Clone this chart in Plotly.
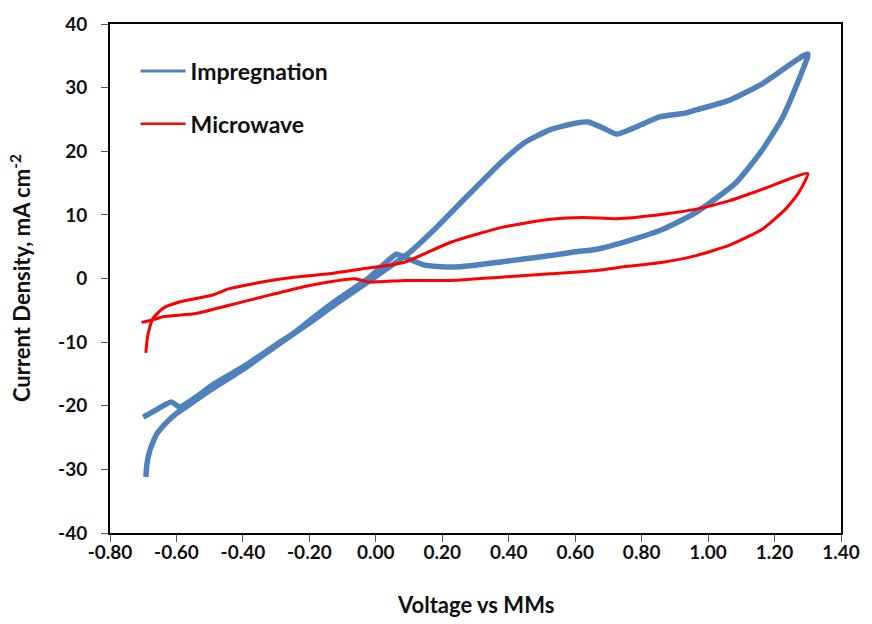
import plotly.graph_objects as go

# Cyclic voltammograms: current density (mA cm^-2) vs potential (V vs MMs)
impregnation_v = [-0.700, -0.660, -0.616, -0.590, -0.540, -0.491, -0.391, -0.300, -0.242,
                  -0.192, -0.112, -0.023, 0.030, 0.062, 0.097, 0.147, 0.226, 0.300, 0.376,
                  0.450, 0.525, 0.600, 0.665, 0.764, 0.864, 0.964, 1.083, 1.163, 1.223,
                  1.265, 1.300,
                  1.163, 1.063, 0.964, 0.930, 0.854, 0.800, 0.725, 0.690, 0.640,
                  0.600, 0.525, 0.446, 0.376, 0.276, 0.177, 0.097, -0.023, -0.112, -0.200,
                  -0.300, -0.400, -0.500, -0.560, -0.600, -0.631, -0.660, -0.680,
                  -0.689, -0.692]
impregnation_i = [-21.8, -20.6, -19.4, -20.2, -18.6, -16.7, -13.6, -10.4, -8.4,
                  -6.3, -3.2, 0.0, 2.5, 3.8, 3.1, 2.1, 1.8, 2.1, 2.6,
                  3.1, 3.6, 4.2, 4.6, 6.0, 7.75, 10.4, 15.0, 20.2, 25.2,
                  30.2, 35.3,
                  30.6, 28.0, 26.5, 26.0, 25.4, 24.2, 22.7, 23.5, 24.6,
                  24.4, 23.4, 21.3, 18.2, 13.0, 7.75, 3.9, -0.5, -3.7, -7.0,
                  -10.6, -14.3, -17.6, -19.8, -21.2, -22.7, -24.5, -27.0,
                  -29.2, -31.2]

microwave_v = [-0.705, -0.671, -0.641, -0.541, -0.441, -0.342, -0.242, -0.142, -0.062,
               -0.023, 0.087, 0.226, 0.376, 0.525, 0.665, 0.725, 0.864, 0.964, 1.063,
               1.163, 1.233, 1.273, 1.300,
               1.163, 1.063, 0.964, 0.864, 0.725, 0.625, 0.525, 0.376, 0.226, 0.087,
               0.027, -0.043, -0.142, -0.242, -0.342, -0.441, -0.491, -0.591, -0.641,
               -0.671, -0.680, -0.688, -0.692]
microwave_i = [-6.9, -6.5, -6.0, -5.5, -4.2, -2.9, -1.6, -0.56, -0.04,
               -0.56, -0.3, -0.3, 0.2, 0.74, 1.26, 1.7, 2.56, 3.6, 5.2,
               7.75, 10.9, 13.5, 16.5,
               14.0, 12.2, 10.9, 10.1, 9.4, 9.6, 9.3, 8.0, 5.7, 2.56,
               2.0, 1.5, 0.74, 0.22, -0.56, -1.6, -2.6, -3.7, -4.7,
               -6.3, -7.6, -9.5, -11.7]

x_tick_vals = [-0.8, -0.6, -0.4, -0.2, 0.0, 0.2, 0.4, 0.6, 0.8, 1.0, 1.2, 1.4]
x_tick_labels = ["-0.80", "-0.60", "-0.40", "-0.20", "0.00", "0.20", "0.40",
                 "0.60", "0.80", "1.00", "1.20", "1.40"]
y_tick_vals = [-40, -30, -20, -10, 0, 10, 20, 30, 40]
y_tick_labels = ["-40", "-30", "-20", "-10", "0", "10", "20", "30", "40"]

series_names = ["Impregnation", "Microwave"]
series_colors = ["#4F81BD", "#FF0000"]

FONT = "Lato"
INK = "#111111"
TICK_FONT = dict(family=FONT, size=19, color=INK, weight="bold")
TITLE_FONT = dict(family=FONT, size=22, color=INK, weight="bold")

fig = go.Figure()
fig.add_trace(go.Scatter(
    x=impregnation_v, y=impregnation_i, mode="lines", name=series_names[0],
    showlegend=False,
    line=dict(color=series_colors[0], width=5.5, shape="spline", smoothing=0.5),
))
fig.add_trace(go.Scatter(
    x=microwave_v, y=microwave_i, mode="lines", name=series_names[1],
    showlegend=False,
    line=dict(color=series_colors[1], width=3, shape="spline", smoothing=0.5),
))
# legend keys use thinner strokes than the plotted curves
for k, (name, color) in enumerate(zip(series_names, series_colors)):
    fig.add_trace(go.Scatter(
        x=[None], y=[None], mode="lines", name=name, legendgroup=name,
        line=dict(color=color, width=3 if k == 0 else 2.5),
    ))

axis_common = dict(
    showline=True, linecolor="black", linewidth=2, mirror=True,
    showgrid=False, zeroline=False, ticks="outside", ticklen=7,
    tickcolor="#555555", tickwidth=1, tickfont=TICK_FONT,
)

fig.update_layout(
    width=872, height=624, autosize=False,
    margin=dict(l=110, r=26, t=20, b=91),
    paper_bgcolor="white", plot_bgcolor="white",
    xaxis=dict(range=[-0.8, 1.4], tickvals=x_tick_vals, ticktext=x_tick_labels,
               ticklabelstandoff=-6, **axis_common),
    yaxis=dict(range=[-40, 40], tickvals=y_tick_vals, ticktext=y_tick_labels,
               ticklabelstandoff=10, **axis_common),
    legend=dict(x=0.035, y=0.95, xanchor="left", yanchor="top",
                bgcolor="rgba(0,0,0,0)", tracegroupgap=20, itemwidth=45,
                font=dict(family=FONT, size=23, color=INK, weight="bold")),
    showlegend=True,
    annotations=[
        dict(text="Voltage vs MMs", xref="paper", yref="paper", x=0.5, y=-0.1404,
             xanchor="center", yanchor="middle", showarrow=False, font=TITLE_FONT),
        dict(text="Current Density, mA cm<sup>-2</sup>", xref="paper", yref="paper",
             x=-0.1223, y=0.5, xanchor="center", yanchor="middle", textangle=-90,
             showarrow=False, font=TITLE_FONT),
    ],
)

fig.write_html("out.html")
